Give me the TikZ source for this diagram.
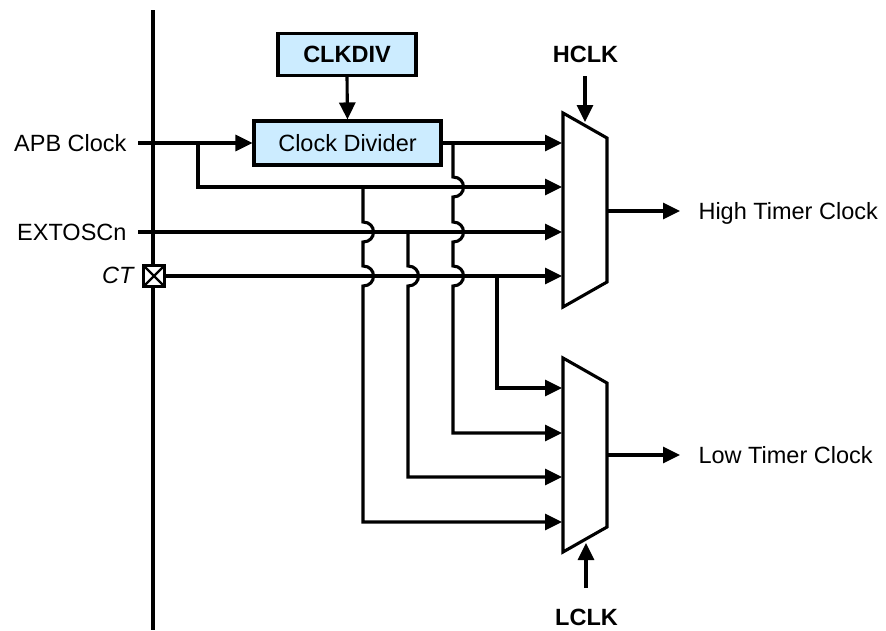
\documentclass[tikz,border=0pt]{standalone}
\usepackage{fontspec}
\setmainfont{Liberation Sans}
\usetikzlibrary{arrows.meta}
\definecolor{boxblue}{RGB}{204,236,255}
\begin{document}
\begin{tikzpicture}[x=1pt,y=-1pt,
  wire/.style={line width=3.1pt},
  arr/.style={wire,-{Triangle[length=17pt,width=16pt]}},
  blk/.style={draw,line width=3.1pt,fill=boxblue,inner sep=0pt},
  lbl/.style={font=\fontsize{23.5}{28}\selectfont},
  bld/.style={font=\fontsize{23.5}{28}\selectfont\bfseries},
  mux/.style={line width=3.1pt,line join=miter}]
\useasboundingbox (0,0) rectangle (886,630);

% vertical boundary bar
\coordinate (bt) at (153,10);
\coordinate (bb) at (153,630);
\draw[wire] (bt) -- (bb);

% blocks
\node[blk,bld,minimum width=138pt,minimum height=42pt] (cd) at (347,54.5) {CLKDIV};
\node[blk,lbl,minimum width=187pt,minimum height=44pt] (dv) at (347.5,143) {Clock Divider};
\draw[arr] (cd.south) -- (dv.north);

% muxes
\draw[mux] (563,113) coordinate (hm1) -- (607,138) -- (607,282) -- (563,307) -- cycle;
\draw[mux] (563,358) coordinate (lm1) -- (607,383) -- (607,527) -- (563,552) -- cycle;

% mux inputs
\coordinate (h1) at (562,143);
\coordinate (h2) at (562,187);
\coordinate (h3) at (562,232);
\coordinate (h4) at (562,276);
\coordinate (l1) at (562,388);
\coordinate (l2) at (562,433);
\coordinate (l3) at (562,477);
\coordinate (l4) at (562,522);

% left labels
\node[lbl,anchor=east] (apbl) at (130,143) {APB Clock};
\node[lbl,anchor=east] (extl) at (130,232) {EXTOSCn};
\node[lbl,font=\fontsize{23.5}{28}\selectfont\itshape,anchor=east] (ctl) at (137,275) {CT};

% CT pin
\node[draw,fill=white,line width=3.1pt,minimum width=21pt,minimum height=21pt,inner sep=0pt,outer sep=0pt] (ct) at (154,276) {};
\draw[line width=2.4pt] (ct.north west) -- (ct.south east) (ct.north east) -- (ct.south west);

% APB clock
\coordinate (apbs) at (138,143);
\draw[arr] (apbs) -- (dv.west);
\coordinate (b1) at (198,143);
\draw[arr] (b1) |- (h2);
\draw[arr] (dv.east) -- (h1);

% divider branch to low mux
\coordinate (b2) at (453,143);
\draw[arr] (b2) -- (453,177) .. controls (467,177) and (467,197) .. (453,197)
  -- (453,222) .. controls (467,222) and (467,242) .. (453,242)
  -- (453,266) .. controls (467,266) and (467,286) .. (453,286) |- (l2);

% APB bypass branch to low mux
\coordinate (b3) at (363,187);
\draw[arr] (b3) -- (363,222) .. controls (377,222) and (377,242) .. (363,242)
  -- (363,266) .. controls (377,266) and (377,286) .. (363,286) |- (l4);

% EXTOSCn
\coordinate (exts) at (138,232);
\draw[arr] (exts) -- (h3);
\coordinate (b4) at (408,232);
\draw[arr] (b4) -- (408,266) .. controls (422,266) and (422,286) .. (408,286) |- (l3);

% CT
\draw[arr] (ct.east) -- (h4);
\coordinate (b5) at (497,276);
\draw[arr] (b5) |- (l1);

% outputs
\coordinate (ho) at (607,211);
\coordinate (hoe) at (680,211);
\draw[arr] (ho) -- (hoe);
\node[lbl,anchor=base west] (hol) at (695,219.4) {High Timer Clock};
\coordinate (lo) at (607,455);
\coordinate (loe) at (680,455);
\draw[arr] (lo) -- (loe);
\node[lbl,anchor=base west] (lol) at (695,463.4) {Low Timer Clock};

% select inputs
\node[bld] (hclk) at (585.5,54) {HCLK};
\coordinate (hs) at (585,76);
\coordinate (he) at (585,122);
\draw[arr] (hs) -- (he);
\node[bld] (lclk) at (586.5,617) {LCLK};
\coordinate (ls) at (586,588);
\coordinate (le) at (586,543);
\draw[arr] (ls) -- (le);
\end{tikzpicture}
\end{document}
